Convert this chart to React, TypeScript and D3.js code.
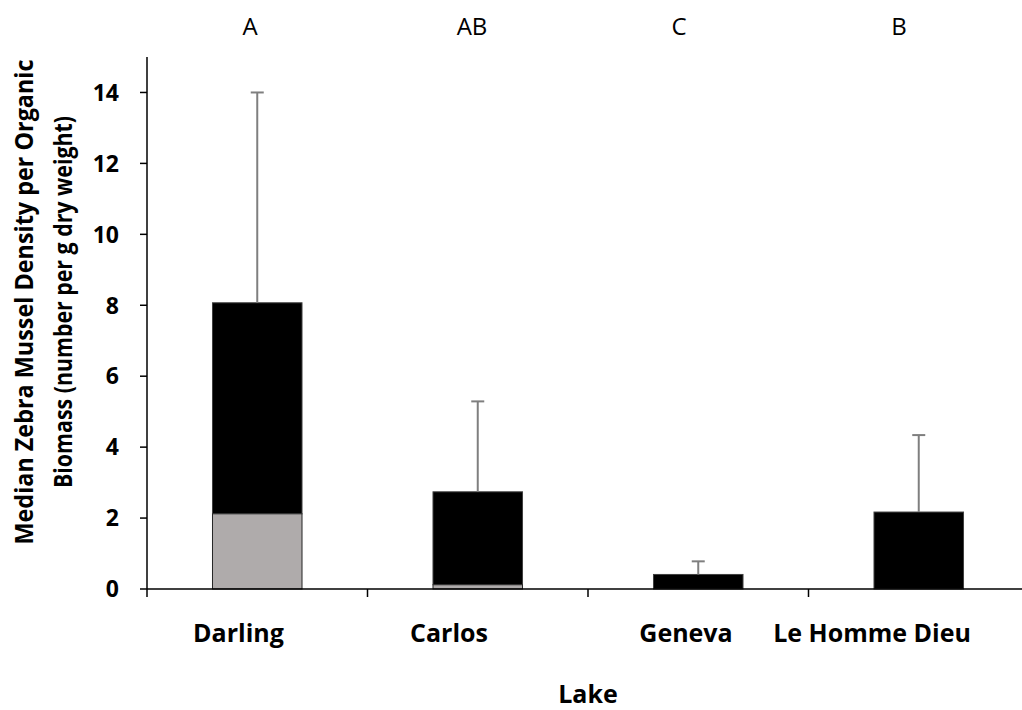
import React from "react";
import * as d3 from "d3";

// Lakes and their median densities (stacked: gray lower part + black upper part)
const lakes = ["Darling", "Carlos", "Geneva", "Le Homme Dieu"];
const lowerPart = [2.12, 0.12, 0, 0];
const totalMedian = [8.07, 2.74, 0.41, 2.17];
const errorTop = [14.0, 5.29, 0.78, 4.34];
const groupLetters = ["A", "AB", "C", "B"];
const letterX = [250, 472, 679, 899];
const labelX = [238.5, 449, 686, 872];
const yTicks = [0, 2, 4, 6, 8, 10, 12, 14];

const W = 1022;
const H = 710;
const left = 147;
const step = 220.5;
const top = 57;
const bottom = 589;
const FONT = "'Open Sans', Lato, sans-serif";

export default function App() {
  const x = d3
    .scaleBand<string>()
    .domain(lakes)
    .range([left, left + step * lakes.length])
    .padding(0);
  const y = d3.scaleLinear().domain([0, 15]).range([bottom, top]);
  const bw = x.bandwidth() * 0.406;
  const bx = (c: string) => (x(c) as number) + (x.bandwidth() - bw) / 2;
  const cx = (c: string) => (x(c) as number) + x.bandwidth() / 2;

  const boundaries = d3.range(lakes.length + 1).map((i) => left + i * x.bandwidth());

  return (
    <svg
      width={W}
      height={H}
      style={{ position: "absolute", left: 0, top: 0, background: "#fff" }}
      fontFamily={FONT}
    >
      {/* group letters above the bars */}
      {groupLetters.map((g, i) => (
        <text key={g} x={letterX[i]} y={35} fontSize={24} textAnchor="middle" fill="#000">
          {g}
        </text>
      ))}

      {/* bars */}
      {lakes.map((c, i) => (
        <g key={c}>
          <rect
            x={bx(c)}
            y={y(totalMedian[i])}
            width={bw}
            height={y(lowerPart[i]) - y(totalMedian[i])}
            fill="#000"
            stroke="#404040"
            strokeWidth={1}
          />
          {lowerPart[i] > 0 && (
            <rect
              x={bx(c)}
              y={y(lowerPart[i])}
              width={bw}
              height={y(0) - y(lowerPart[i])}
              fill="#AFABAB"
              stroke="#262626"
              strokeWidth={1}
            />
          )}
          {/* upper error bar */}
          <line
            x1={cx(c)}
            x2={cx(c)}
            y1={y(totalMedian[i])}
            y2={y(errorTop[i])}
            stroke="#7f7f7f"
            strokeWidth={2}
          />
          <line
            x1={cx(c) - 6.5}
            x2={cx(c) + 6.5}
            y1={y(errorTop[i])}
            y2={y(errorTop[i])}
            stroke="#7f7f7f"
            strokeWidth={2}
          />
        </g>
      ))}

      {/* y axis */}
      <line x1={left} x2={left} y1={top} y2={bottom} stroke="#000" strokeWidth={1.5} />
      {yTicks.map((t) => (
        <g key={t}>
          <line x1={left - 7} x2={left} y1={y(t)} y2={y(t)} stroke="#000" strokeWidth={1.5} />
          <text
            x={119}
            y={y(t)}
            dy="0.36em"
            fontSize={23}
            fontWeight="bold"
            textAnchor="end"
            fill="#000"
          >
            {t}
          </text>
        </g>
      ))}

      {/* x axis */}
      <line x1={left} x2={W} y1={bottom} y2={bottom} stroke="#000" strokeWidth={1.5} />
      {boundaries.map((b, i) => (
        <line key={i} x1={b} x2={b} y1={bottom} y2={bottom + 8} stroke="#000" strokeWidth={1.5} />
      ))}
      {lakes.map((c, i) => (
        <text
          key={c}
          x={labelX[i]}
          y={642}
          fontSize={25}
          fontWeight="bold"
          textAnchor="middle"
          fill="#000"
        >
          {c}
        </text>
      ))}

      {/* axis titles */}
      <text x={588} y={703} fontSize={25} fontWeight="bold" textAnchor="middle" fill="#000">
        Lake
      </text>
      <g transform="translate(33,302) rotate(-90)">
        <text x={0} y={0} fontSize={25} fontWeight="bold" textAnchor="middle" fill="#000"
          textLength={485} lengthAdjust="spacingAndGlyphs">
          Median Zebra Mussel Density per Organic
        </text>
        <text x={0} y={39} fontSize={25} fontWeight="bold" textAnchor="middle" fill="#000"
          textLength={372} lengthAdjust="spacingAndGlyphs">
          Biomass (number per g dry weight)
        </text>
      </g>
    </svg>
  );
}
